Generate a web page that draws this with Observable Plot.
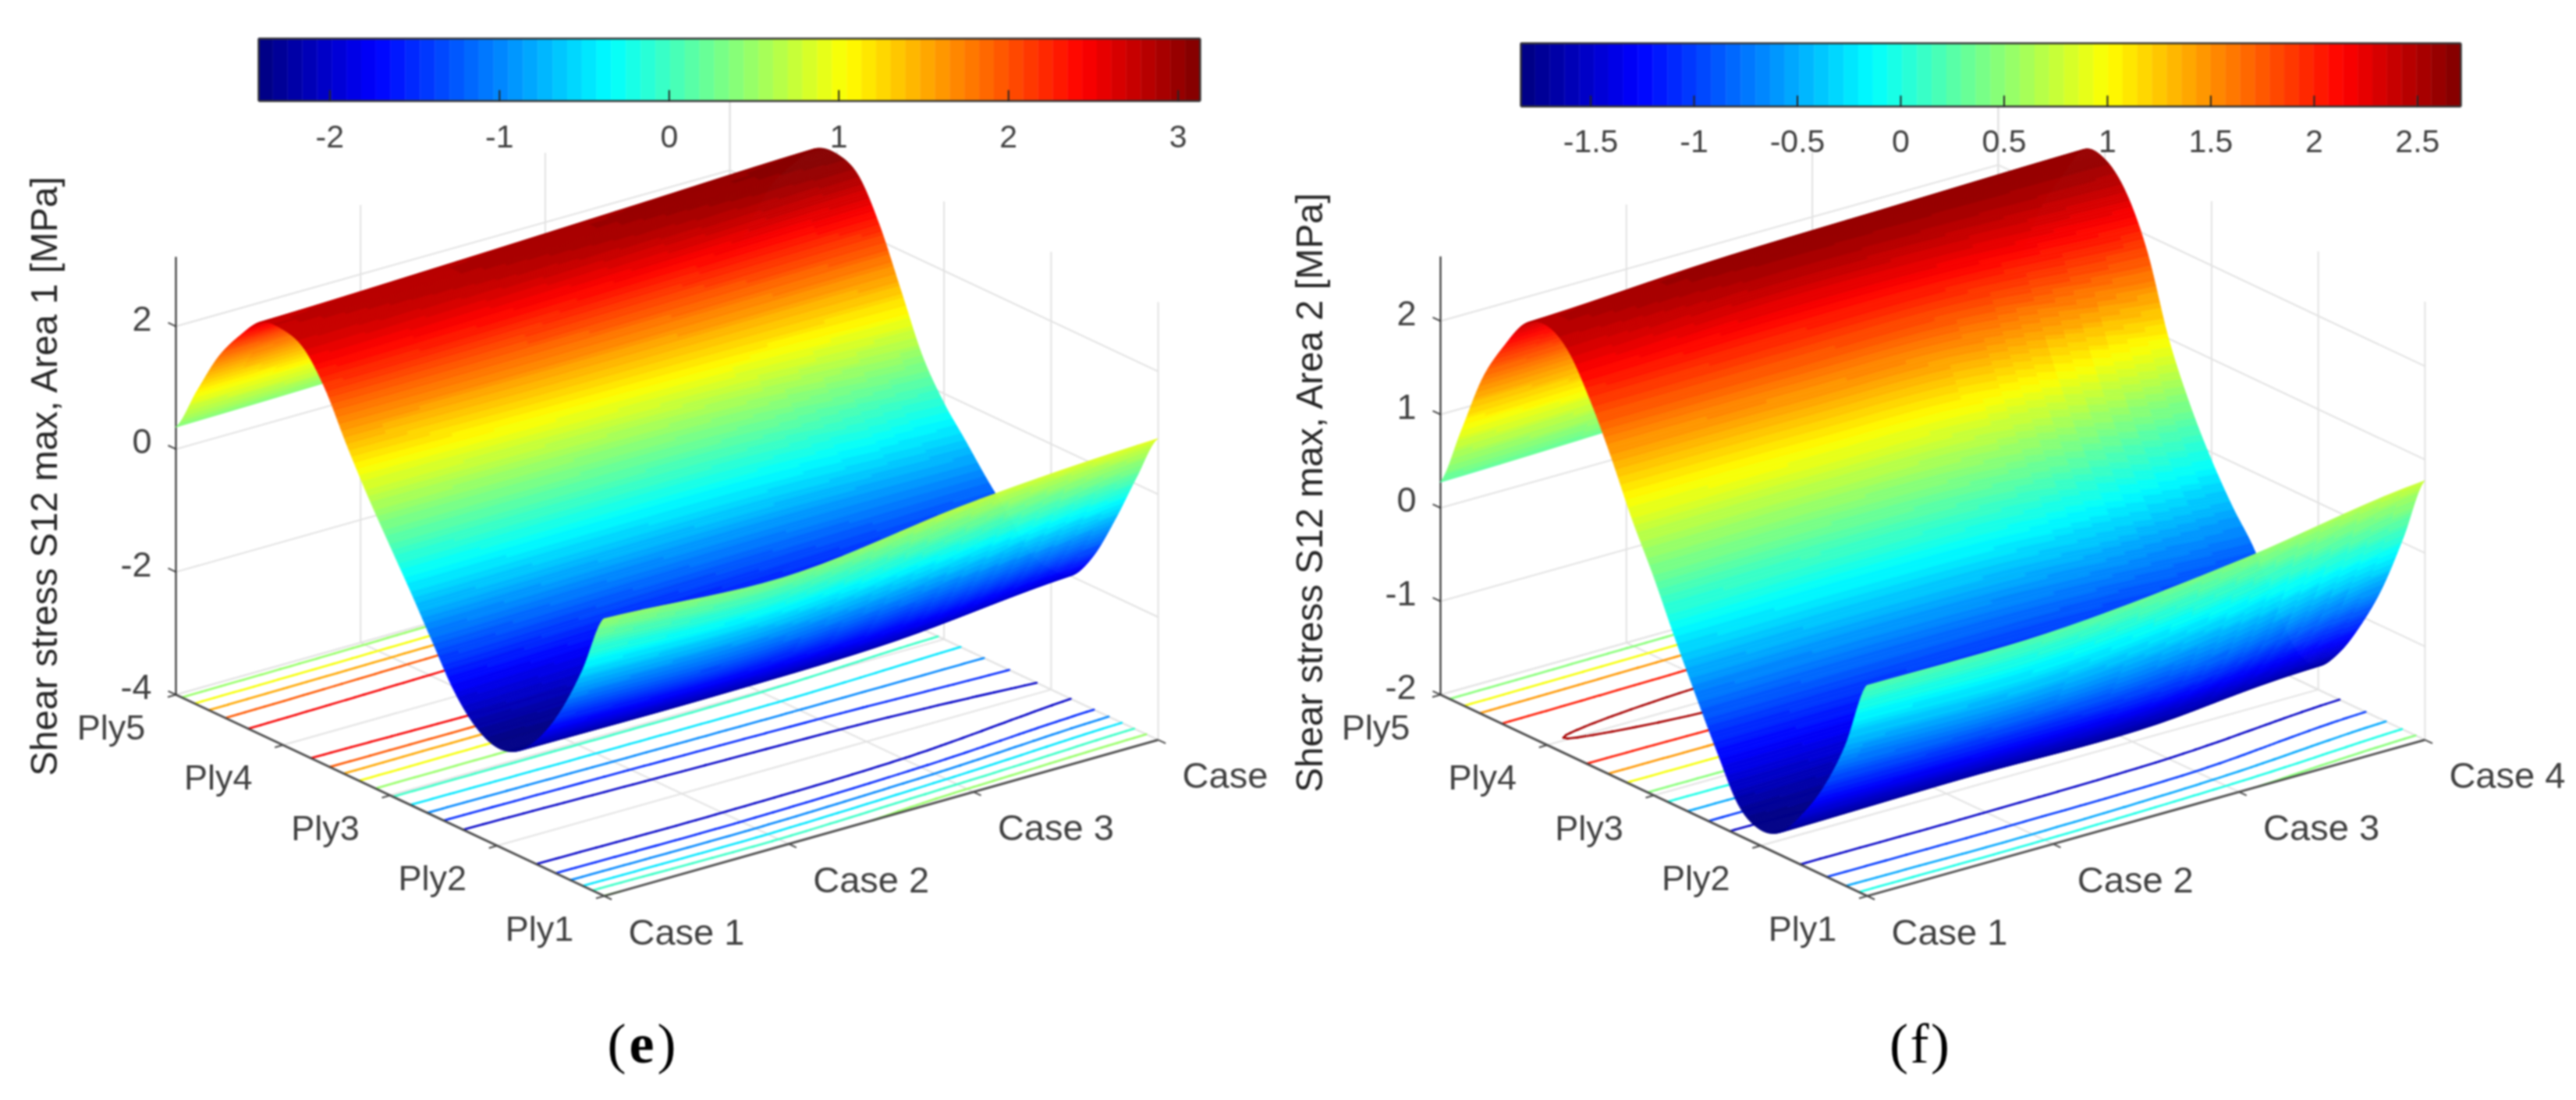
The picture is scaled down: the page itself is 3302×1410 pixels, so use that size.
<!DOCTYPE html>
<html><head><meta charset="utf-8">
<script src="https://cdn.jsdelivr.net/npm/d3@7"></script>
<script src="https://cdn.jsdelivr.net/npm/@observablehq/plot@0.6"></script>
<style>
html,body{margin:0;padding:0;background:#fff}
#root{display:flex;width:3302px;height:1410px;overflow:hidden}
#root svg{display:block;filter:blur(0.9px);background:#fff}
</style></head><body><div id="root"></div>
<script>
// ---------- values ----------
const plyPositions=[1,1.2,1.4,1.6,1.8,2,2.2,2.4,2.6,2.8,3,3.2,3.4,3.6,3.8,4,4.2,4.4,4.6,4.8,5];
const plyLabels=["Ply1","Ply2","Ply3","Ply4","Ply5"];
const caseLabelsE=["Case 1","Case 2","Case 3","Case"];
const caseLabelsF=["Case 1","Case 2","Case 3","Case 4"];

const area1Case1=[.51,-.5,-1.32,-1.92,-2.3,-2.4,-2.22,-1.8,-1.17,-.53,.08,.7,1.38,2.12,2.62,2.77,2.72,2.33,1.82,1.1,.35];
const area1Case2=[.36,-.52,-1.35,-1.95,-2.3,-2.36,-2.15,-1.72,-1.12,-.5,.08,.68,1.35,2.15,2.7,2.87,2.8,2.4,1.9,1.15,.4];
const area1Case3=[.72,-.25,-1.15,-1.85,-2.24,-2.32,-2.08,-1.62,-1.08,-.5,.05,.62,1.35,2.2,2.8,2.98,2.9,2.5,2,1.25,.48];
const area1Case4=[.9,.1,-.75,-1.5,-1.98,-2.05,-1.93,-1.48,-1.06,-.6,-.15,.45,1.35,2.25,2.9,3.08,3,2.6,2.1,1.35,.55];

const area2Case1=[.25,-.5,-1.05,-1.45,-1.75,-1.83,-1.68,-1.22,-.72,-.2,.35,.85,1.42,1.93,2.33,2.49,2.4,2.05,1.6,.93,.27];
const area2Case2=[.27,-.52,-1.05,-1.45,-1.72,-1.78,-1.62,-1.2,-.7,-.18,.35,.85,1.42,1.95,2.44,2.6,2.5,2.1,1.65,.98,.32];
const area2Case3=[.47,-.35,-.98,-1.38,-1.72,-1.8,-1.62,-1.18,-.72,-.22,.28,.8,1.38,1.95,2.42,2.6,2.55,2.15,1.7,1.03,.38];
const area2Case4=[.77,.05,-.6,-1.1,-1.5,-1.75,-1.7,-1.3,-.82,-.48,-.08,.4,1.0,1.82,2.35,2.6,2.59,2.2,1.75,1.08,.42];

const contourLevelsE=[-2,-1.5,-1,-.5,0,.5,1,1.5,2,2.5];
const contourLevelsF=[-1.5,-1,-.5,0,.5,1,1.5,2,2.5];
const zTicksE=[-4,-2,0,2];
const zTicksF=[-2,-1,0,1,2];
const colorTicksE=[-2,-1,0,1,2,3];
const colorTicksF=[-1.5,-1,-.5,0,.5,1,1.5,2,2.5];
const colorRangeE=[-2.42,3.13];
const colorRangeF=[-1.838,2.71];
const zRangeE=[-4,3.13];
const zRangeF=[-2,2.69];

// ---------- layout ----------
const layoutE={sx:[0,1651],w:1651,ox:774,oy:1148,cx:236.7,cy:66.7,px:137.25,py:64.5,zs:78.7,
  bar:[331,1538,49,129],barLabelY:175,ylabelX:57,ylabelY:610,capX:822,capD:32};
const layoutF={sx:[1651,3302],w:1651,ox:2393,oy:1148,cx:238.3,cy:66.7,px:136.75,py:64.5,zs:119.75,
  bar:[1949,3154,55,136],barLabelY:181,ylabelX:1679,ylabelY:631,capX:2460,capD:26.5};
const FONT="Liberation Sans",CAPF="Liberation Serif";

// ---------- helpers ----------
function jet(t){const f=v=>Math.round(255*Math.max(0,Math.min(1,v)));
  return `rgb(${f(1.5-Math.abs(4*t-3))},${f(1.5-Math.abs(4*t-2))},${f(1.5-Math.abs(4*t-1))})`;}
const jet64=d3.range(64).map(i=>jet((i+.5)/64));
function crom(a,t){const n=a.length-1;const i=Math.min(Math.floor(t),n-1),u=t-i;
  const p0=a[Math.max(i-1,0)],p1=a[i],p2=a[i+1],p3=a[Math.min(i+2,n)];
  return .5*((2*p1)+(-p0+p2)*u+(2*p0-5*p1+4*p2-p3)*u*u+(-p0+3*p1-3*p2+p3)*u*u*u);}

function panel(L,columns,levels,zTicks,cTicks,cRange,zRange,caseLabels,yLabel,capLetter,capBold){
  const zBase=zRange[0];
  const P=(c,p,z=zBase)=>[L.ox+L.cx*(c-1)-L.px*(p-1),L.oy-L.cy*(c-1)-L.py*(p-1)-L.zs*(z-zBase)];
  const thresholds=d3.range(1,64).map(i=>cRange[0]+(cRange[1]-cRange[0])*i/64);
  const NR=340,NC=28;
  const nP=plyPositions.length-1;
  // grid: r=0 is ply 5 (far), r=NR is ply 1 (near)
  const ps=d3.range(NR+1).map(r=>5-4*r/NR), cs=d3.range(NC+1).map(k=>1+3*k/NC);
  const Z=ps.map(p=>{const col=columns.map(a=>crom(a,(p-1)/4*nP));return cs.map(c=>crom(col,c-1));});
  // surface runs, painter's order
  const surf=[];let run=0;
  for(let r=0;r<NR;r++){let band=null,zc=0;
    for(let k=0;k<NC;k++){
      const m=(Z[r][k]+Z[r+1][k]+Z[r][k+1]+Z[r+1][k+1])/4, b=d3.bisectRight(thresholds,m);
      const pt=(kk)=>{const a=P(cs[kk],ps[r],Z[r][kk]),d=P(cs[kk],ps[r+1],Z[r+1][kk]);
        surf.push({x1:a[0],y1:a[1],x2:d[0],y2:d[1],run,zc});};
      if(b!==band){if(band!==null){pt(k);run++;}band=b;zc=m;pt(k);}
      if(k===NC-1){pt(k+1);run++;}
      else {const m2=(Z[r][k+1]+Z[r+1][k+1]+Z[r][k+2]+Z[r+1][k+2])/4;
        if(d3.bisectRight(thresholds,m2)===b)pt(k+1);}
    }}
  // floor contours, marching over triangles
  const segs=[];
  const NRc=170,NCc=28,stepR=NR/NRc;
  for(const lv of levels){for(let r=0;r<NRc;r++){for(let k=0;k<NCc;k++){
    const r0=r*stepR,r1=(r+1)*stepR;
    const tris=[[[r0,k],[r1,k],[r1,k+1]],[[r0,k],[r1,k+1],[r0,k+1]]];
    for(const t of tris){const hits=[];
      for(let e=0;e<3;e++){const A=t[e],B=t[(e+1)%3],za=Z[A[0]][A[1]],zb=Z[B[0]][B[1]];
        if((za<lv)!==(zb<lv)){const u=(lv-za)/(zb-za);
          hits.push(P(cs[A[1]]+(cs[B[1]]-cs[A[1]])*u,ps[A[0]]+(ps[B[0]]-ps[A[0]])*u));}}
      if(hits.length===2)segs.push({x1:hits[0][0],y1:hits[0][1],x2:hits[1][0],y2:hits[1][1],lv});
    }}}}
  // grid lines
  const zTop=zRange[1],grid=[];
  const seg=(a,b)=>grid.push({x1:a[0],y1:a[1],x2:b[0],y2:b[1]});
  for(const c of [1,2,3,4]){seg(P(c,1),P(c,5));seg(P(c,5),P(c,5,zTop));}
  for(const p of [1,2,3,4,5]){seg(P(1,p),P(4,p));seg(P(4,p),P(4,p,zTop));}
  for(const z of zTicks){seg(P(1,5,z),P(4,5,z));seg(P(4,5,z),P(4,1,z));}
  // axis lines and ticks
  const axes=[],ticks=[];
  const sa=(a,b,arr=axes)=>arr.push({x1:a[0],y1:a[1],x2:b[0],y2:b[1]});
  sa(P(1,5),P(1,1));sa(P(1,1),P(4,1));
  for(const p of [1,2,3,4,5]){const a=P(1,p);sa(a,[a[0]-10.5,a[1]+3],ticks);}
  for(const c of [1,2,3,4]){const a=P(c,1);sa(a,[a[0]+9.6,a[1]+4.5],ticks);}
  for(const z of zTicks){const a=P(1,5,z);sa(a,[a[0]-10,a[1]-4.7],ticks);}
  const zAxis=[];sa(P(1,5),P(1,5,zTop),zAxis);
  // text
  const texts=[];
  for(const z of zTicks){const a=P(1,5,z);texts.push({x:a[0]-31,y:a[1]-9,t:String(z),anchor:"end"});}
  [1,2,3,4,5].forEach(p=>{const a=P(1,p);texts.push({x:a[0]-83,y:a[1]+43,t:plyLabels[p-1],anchor:"middle"});});
  caseLabels.forEach((s,i)=>{const a=P(i+1,1);texts.push({x:a[0]+31,y:a[1]+47,t:s,anchor:"start"});});
  // colour bar
  const [bx0,bx1,by0,by1]=L.bar;
  const v2x=v=>bx0+(bx1-bx0)*(v-cRange[0])/(cRange[1]-cRange[0]);
  const barCells=d3.range(64).map(i=>{const v0=cRange[0]+(cRange[1]-cRange[0])*i/64,v1=cRange[0]+(cRange[1]-cRange[0])*(i+1)/64;
    return {x1:v2x(v0),x2:v2x(v1),y1:by0,y2:by1,v:(v0+v1)/2};});
  const barFrame=[{x1:bx0,y1:by0,x2:bx1,y2:by0},{x1:bx0,y1:by1,x2:bx1,y2:by1},{x1:bx0,y1:by0,x2:bx0,y2:by1},{x1:bx1,y1:by0,x2:bx1,y2:by1}];
  const barTicks=cTicks.map(v=>({x1:v2x(v),x2:v2x(v),y1:by1,y2:by1-14}));
  const barLabels=cTicks.map(v=>({x:v2x(v),y:L.barLabelY,t:String(v)}));
  const link=(d,o)=>Plot.link(d,{x1:"x1",y1:"y1",x2:"x2",y2:"y2",...o});
  const caption=[{x:L.capX-L.capD,t:"(",w:"normal"},{x:L.capX,t:capLetter,w:capBold?"bold":"normal"},{x:L.capX+L.capD,t:")",w:"normal"}];
  return Plot.plot({
    width:L.w,height:1410,margin:0,marginLeft:0,marginRight:0,marginTop:0,marginBottom:0,
    x:{domain:L.sx,range:[0,L.w],axis:null},
    y:{domain:[0,1410],range:[0,1410],axis:null},
    color:{type:"threshold",domain:thresholds,range:jet64},
    style:{background:"#fff"},
    marks:[
      link(grid,{stroke:"#e2e2e2",strokeWidth:2}),
      link(segs,{stroke:"lv",strokeWidth:2.6,strokeLinecap:"round"}),
      link(axes,{stroke:"#4a4a4a",strokeWidth:2.8}),
      link(ticks,{stroke:"#4a4a4a",strokeWidth:2}),
      link(zAxis,{stroke:"#262626",strokeWidth:2}),
      Plot.area(surf,{x1:"x1",y1:"y1",x2:"x2",y2:"y2",z:"run",fill:"zc",stroke:"zc",strokeWidth:.7}),
      Plot.rect(barCells,{x1:"x1",x2:"x2",y1:"y1",y2:"y2",fill:"v",stroke:"v",strokeWidth:.4}),
      link(barFrame,{stroke:"#333",strokeWidth:2.4}),
      link(barTicks,{stroke:"#262626",strokeWidth:2}),
      Plot.text(barLabels,{x:"x",y:"y",text:"t",fontSize:41,fontFamily:FONT,fill:"#404040",textAnchor:"middle",lineAnchor:"middle"}),
      Plot.text(texts.filter(d=>d.anchor==="end"),{x:"x",y:"y",text:"t",fontSize:45,fontFamily:FONT,fill:"#404040",textAnchor:"end",lineAnchor:"middle"}),
      Plot.text(texts.filter(d=>d.anchor==="middle"),{x:"x",y:"y",text:"t",fontSize:45,fontFamily:FONT,fill:"#404040",textAnchor:"middle",lineAnchor:"middle"}),
      Plot.text(texts.filter(d=>d.anchor==="start"),{x:"x",y:"y",text:"t",fontSize:47,fontFamily:FONT,fill:"#404040",textAnchor:"start",lineAnchor:"middle"}),
      Plot.text([yLabel],{x:L.ylabelX,y:L.ylabelY,text:d=>d,rotate:-90,fontSize:47.5,fontFamily:FONT,fill:"#262626",textAnchor:"middle",lineAnchor:"middle"}),
      ...caption.map(c=>Plot.text([c],{x:"x",y:1338,text:"t",fontSize:72,fontFamily:CAPF,fontWeight:c.w,fill:"#000",textAnchor:"middle",lineAnchor:"middle"}))
    ]
  });
}
const root=document.getElementById("root");
root.append(panel(layoutE,[area1Case1,area1Case2,area1Case3,area1Case4],contourLevelsE,zTicksE,colorTicksE,colorRangeE,zRangeE,caseLabelsE,"Shear stress S12 max, Area 1 [MPa]","e",true));
root.append(panel(layoutF,[area2Case1,area2Case2,area2Case3,area2Case4],contourLevelsF,zTicksF,colorTicksF,colorRangeF,zRangeF,caseLabelsF,"Shear stress S12 max, Area 2 [MPa]","f",false));
</script></body></html>
